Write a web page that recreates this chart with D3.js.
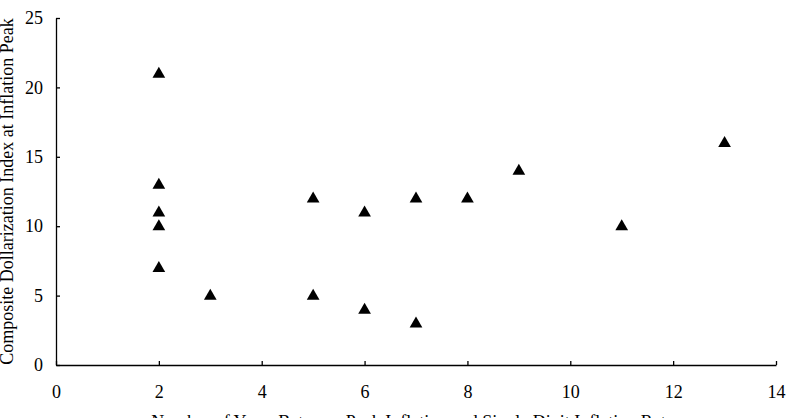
<!DOCTYPE html>
<html>
<head>
<meta charset="utf-8">
<script src="https://cdn.jsdelivr.net/npm/d3@7"></script>
<style>
  html, body { margin: 0; padding: 0; background: #fff; }
  svg { display: block; }
  text { font-family: "Liberation Serif", "Times New Roman", serif; fill: #000; }
</style>
</head>
<body>
<svg id="chart" width="788" height="418"></svg>
<script>
const xValues = [2, 2, 2, 2, 2, 3, 5, 5, 6, 6, 7, 7, 8, 9, 11, 13];
const yValues = [21, 13, 11, 10, 7, 5, 12, 5, 11, 4, 12, 3, 12, 14, 10, 16];
const xTicks = [0, 2, 4, 6, 8, 10, 12, 14];
const yTicks = [0, 5, 10, 15, 20, 25];
const xTitle = "Number of Years Between Peak Inflation and Single Digit Inflation Rates";
const yTitle = "Composite Dollarization Index at Inflation Peak";

const svg = d3.select("#chart");
const mLeft = 56, mRight = 776, mTop = 18, mBottom = 365;
const fontFam = '"Liberation Serif", "Times New Roman", serif';

const x = d3.scaleLinear().domain([0, 14]).range([mLeft, mRight]);
const y = d3.scaleLinear().domain([0, 25]).range([mBottom, mTop]);

const xAxis = svg.append("g")
  .attr("transform", `translate(0,${mBottom})`)
  .call(d3.axisBottom(x).tickValues(xTicks).tickSize(-4).tickPadding(20).tickSizeOuter(0));
const yAxis = svg.append("g")
  .attr("transform", `translate(${mLeft},0)`)
  .call(d3.axisLeft(y).tickValues(yTicks).tickSize(-4).tickPadding(13).tickSizeOuter(0));

[xAxis, yAxis].forEach(g => {
  g.select(".domain").attr("stroke", "#000").attr("stroke-width", 1.3);
  g.selectAll(".tick line").attr("stroke", "#000").attr("stroke-width", 1.3);
  g.selectAll(".tick text")
    .style("font-family", fontFam)
    .style("font-size", "18px").attr("fill", "#000");
});

const pts = xValues.map((v, i) => ({x: v, y: yValues[i]}));
svg.append("g").selectAll("path")
  .data(pts)
  .join("path")
  .attr("transform", d => `translate(${x(d.x)},${y(d.y) + 0.5})`)
  .attr("d", d3.symbol(d3.symbolTriangle, 70)())
  .attr("fill", "#000");

svg.append("text")
  .attr("x", (mLeft + mRight) / 2)
  .attr("y", 428)
  .attr("text-anchor", "middle")
  .style("font-family", fontFam)
  .style("font-size", "18px")
  .text(xTitle);

svg.append("text")
  .attr("transform", `translate(13,${(mTop + mBottom) / 2}) rotate(-90)`)
  .attr("text-anchor", "middle")
  .style("font-family", fontFam)
  .style("font-size", "18px")
  .text(yTitle);
</script>
</body>
</html>
